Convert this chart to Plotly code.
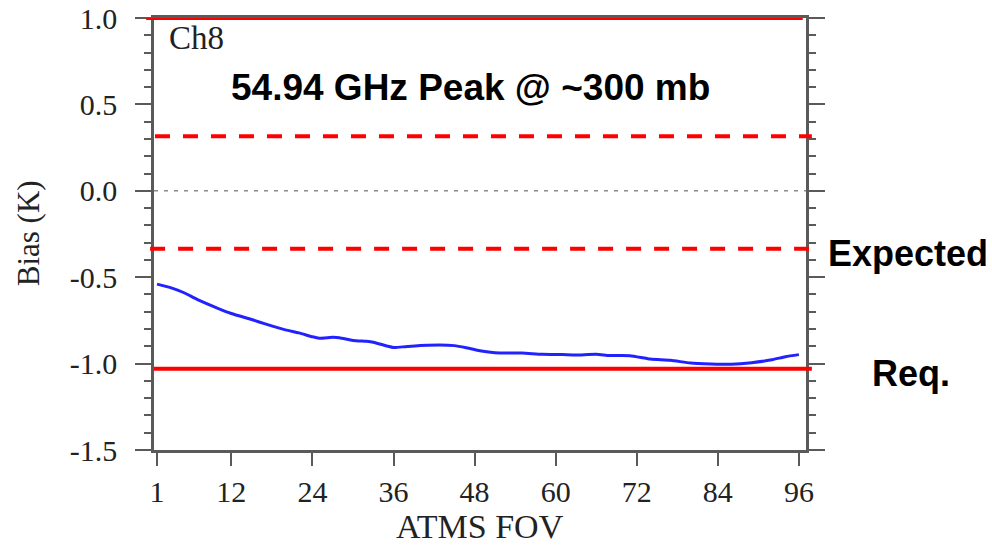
import plotly.graph_objects as go

# ATMS channel 8 scan-angle bias
fov = [1, 3, 5, 7, 10, 12, 15, 17, 20, 22, 24, 25, 27, 28, 30, 32, 33, 35, 36, 38,
       41, 45, 47, 49, 51, 55, 58, 61, 63, 66, 68, 71, 74, 77, 80, 83, 86, 89, 92, 94, 96]
bias = [-0.54, -0.56, -0.59, -0.63, -0.68, -0.71, -0.745, -0.77, -0.805, -0.822,
        -0.845, -0.853, -0.848, -0.85, -0.866, -0.871, -0.876, -0.898, -0.907, -0.901,
        -0.894, -0.896, -0.91, -0.927, -0.937, -0.939, -0.946, -0.948, -0.95, -0.946,
        -0.953, -0.954, -0.974, -0.981, -0.997, -1.002, -1.004, -0.995, -0.978, -0.96,
        -0.948]

# Reference levels: requirement (solid) and expected (dashed)
req_levels = [1.0, -1.03]
expected_levels = [0.315, -0.335]

x_ticks = [1, 12, 24, 36, 48, 60, 72, 84, 96]
y_ticks = [-1.5, -1.0, -0.5, 0.0, 0.5, 1.0]
y_tick_text = ["-1.5", "-1.0", "-0.5", "0.0", "0.5", "1.0"]

serif = "Liberation Serif"
sans = "Liberation Sans"
axis_grey = "#5a5a5a"
text_dark = "#222222"

fig = go.Figure()
fig.add_trace(go.Scatter(
    x=fov, y=bias, mode="lines",
    line=dict(color="#2222ff", width=3, shape="spline", smoothing=0.6),
    showlegend=False, hoverinfo="skip",
))

# zero line
fig.add_shape(type="line", xref="x", yref="y", x0=0.55, x1=97.05, y0=0, y1=0,
              line=dict(color="#8a8a8a", width=1.5, dash="4px,6px"), layer="below")

# requirement lines
fig.add_shape(type="line", xref="paper", yref="y", x0=-0.012, x1=0.995,
              y0=req_levels[0], y1=req_levels[0],
              line=dict(color="#ff0000", width=4))
fig.add_shape(type="line", xref="paper", yref="y", x0=0.0, x1=1.009,
              y0=req_levels[1], y1=req_levels[1],
              line=dict(color="#ff0000", width=4))
# expected lines
fig.add_shape(type="line", xref="paper", yref="y", x0=0.0015, x1=1.009,
              y0=expected_levels[0], y1=expected_levels[0],
              line=dict(color="#ff0000", width=4, dash="15px,13px"))
fig.add_shape(type="line", xref="paper", yref="y", x0=-0.006, x1=1.008,
              y0=expected_levels[1], y1=expected_levels[1],
              line=dict(color="#ff0000", width=4, dash="15px,13px"))

fig.add_annotation(text="Ch8", xref="paper", yref="paper", x=0.020, y=0.953,
                   xanchor="left", yanchor="middle", showarrow=False,
                   font=dict(family=serif, size=33, color=text_dark))
fig.add_annotation(text="<b>54.94 GHz Peak @ ~300 mb</b>", xref="paper", yref="paper",
                   x=0.485, y=0.838, xanchor="center", yanchor="middle", showarrow=False,
                   font=dict(family=sans, size=37, color="black"))
fig.add_annotation(text="<b>Expected</b>", xref="paper", yref="paper",
                   x=1.03, y=0.455, xanchor="left", yanchor="middle", showarrow=False,
                   font=dict(family=sans, size=36, color="black"))
fig.add_annotation(text="<b>Req.</b>", xref="paper", yref="paper",
                   x=1.098, y=0.178, xanchor="left", yanchor="middle", showarrow=False,
                   font=dict(family=sans, size=36, color="black"))

# axis titles
fig.add_annotation(text="Bias (K)", xref="paper", yref="paper", x=-0.193, y=0.502,
                   xanchor="center", yanchor="middle", textangle=-90, showarrow=False,
                   font=dict(family=serif, size=31, color=text_dark))
fig.add_annotation(text="ATMS FOV", xref="paper", yref="paper", x=0.5, y=-0.178,
                   xanchor="center", yanchor="middle", showarrow=False,
                   font=dict(family=serif, size=34, color=text_dark))

fig.update_layout(
    width=992, height=548,
    margin=dict(l=154, r=186, t=18, b=98),
    plot_bgcolor="white", paper_bgcolor="white",
    xaxis=dict(
        range=[0.55, 97.05], tickvals=x_ticks, ticks="outside", ticklen=13,
        tickwidth=2, tickcolor=axis_grey, showline=True, linecolor=axis_grey,
        linewidth=2.5, mirror=True, showgrid=False, zeroline=False,
        automargin=False,
        tickfont=dict(family=serif, size=30, color=text_dark),
    ),
    yaxis=dict(
        range=[-1.5, 1.0], tickvals=y_ticks, ticktext=y_tick_text, ticks="outside",
        ticklen=16, tickwidth=2, tickcolor=axis_grey, showline=True,
        linecolor=axis_grey, linewidth=2.5, mirror="allticks", showgrid=False,
        zeroline=False, automargin=False, ticklabelstandoff=12,
        minor=dict(dtick=0.1, ticks="outside", ticklen=7, tickwidth=1.5,
                   tickcolor=axis_grey, showgrid=False),
        tickfont=dict(family=serif, size=30, color=text_dark),
    ),
)

fig.write_html("out.html")
